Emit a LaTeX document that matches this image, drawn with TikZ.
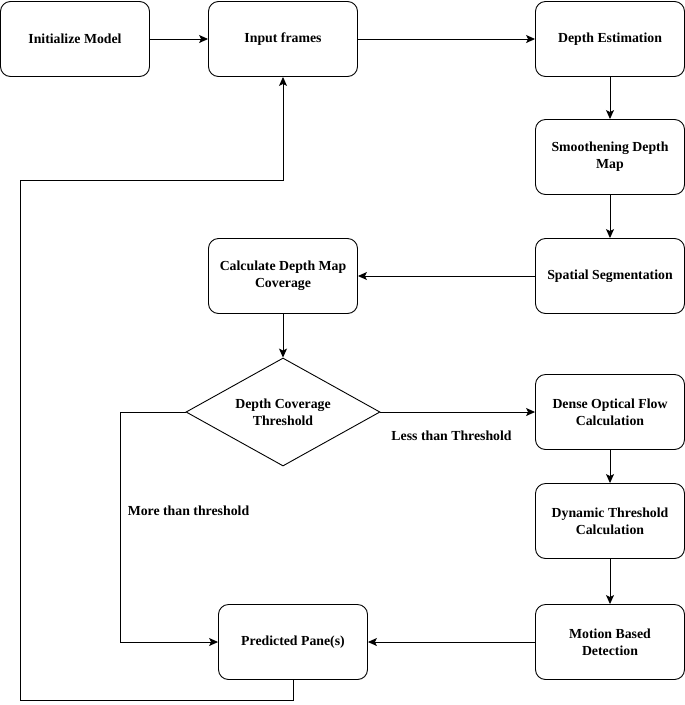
\documentclass[tikz,border=0pt]{standalone}
\usepackage{fontspec}
\setmainfont{Liberation Serif}
\usetikzlibrary{arrows.meta,shapes.geometric}

\tikzset{
  stepbox/.style={draw,rounded corners=10pt,minimum width=149pt,minimum height=75pt,align=center,font=\bfseries\fontsize{13.8}{17}\selectfont},
  decision/.style={draw,diamond,aspect=1.8,minimum width=194pt,minimum height=108pt,align=center,inner sep=0pt,font=\bfseries\fontsize{13.8}{17}\selectfont},
  flow/.style={-{Stealth[length=9pt,width=8pt,inset=2pt]},line width=0.9pt},
  note/.style={font=\bfseries\fontsize{13.8}{17}\selectfont}
}

\begin{document}
\begin{tikzpicture}[x=1pt,y=-1pt,line width=0.9pt]
  \useasboundingbox (0,0) rectangle (685,705);
  \node[stepbox] (init) at (75,39) {Initialize Model};
  \node[stepbox] (input) at (283,39) {Input frames};
  \node[stepbox] (depth) at (610,39) {Depth Estimation};
  \node[stepbox] (smooth) at (610,157) {Smoothening Depth\\Map};
  \node[stepbox] (spatial) at (610,276) {Spatial Segmentation};
  \node[stepbox] (coverage) at (283,276) {Calculate Depth Map\\Coverage};
  \node[decision] (thresh) at (283,412) {Depth Coverage\\Threshold};
  \node[stepbox] (optflow) at (610,412) {Dense Optical Flow\\Calculation};
  \node[stepbox] (dynthr) at (610,521) {Dynamic Threshold\\Calculation};
  \node[stepbox] (motion) at (610,642) {Motion Based\\Detection};
  \node[stepbox] (pred) at (293,642) {Predicted Pane(s)};
  \coordinate (lowleft) at (20,700);
  \coordinate (upleft) at (20,180);
  \coordinate (forkleft) at (120,412);

  \draw[flow] (init) -- (input);
  \draw[flow] (input) -- (depth);
  \draw[flow] (depth) -- (smooth);
  \draw[flow] (smooth) -- (spatial);
  \draw[flow] (spatial) -- (coverage);
  \draw[flow] (coverage) -- (thresh);
  \draw[flow] (thresh) -- (optflow) node[note,pos=0.46,below=15pt] {Less than Threshold};
  \draw[flow] (optflow) -- (dynthr);
  \draw[flow] (dynthr) -- (motion);
  \draw[flow] (motion) -- (pred);
  \draw[flow] (thresh.west) -- (forkleft) |- (pred.west);
  \node[note,anchor=west] (morelbl) at (124,511) {More than threshold};
  \draw[flow] (pred.south) |- (lowleft) -- (upleft) -| (input.south);
\end{tikzpicture}
\end{document}
